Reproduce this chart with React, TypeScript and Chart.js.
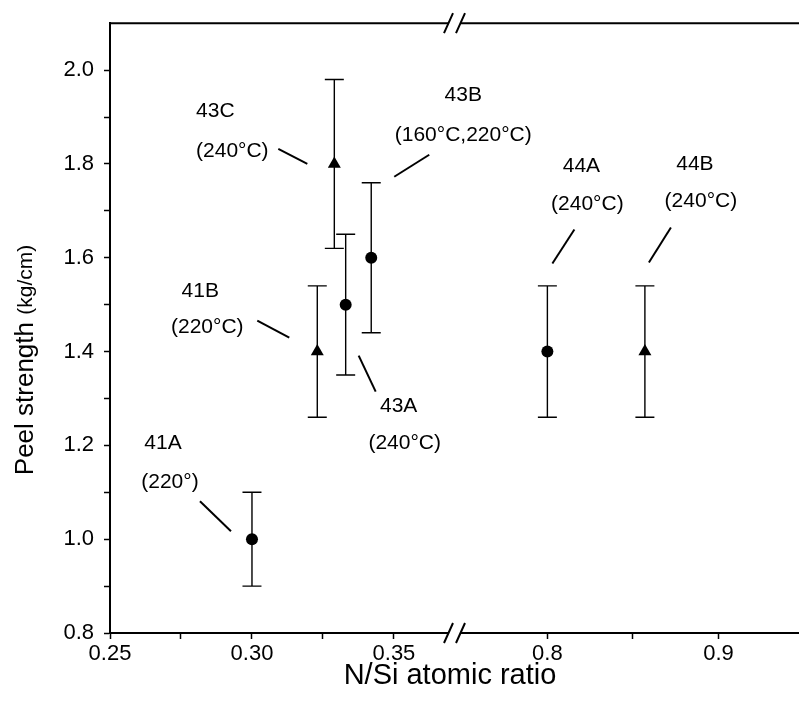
import React, { useEffect, useRef } from "react";
import { Chart, registerables } from "chart.js";

Chart.register(...registerables);

// ---- data ----
const sampleNames = ["41A", "41B", "43C", "43A", "43B", "44A", "44B"];
const sampleConditions = ["(220°)", "(220°C)", "(240°C)", "(240°C)", "(160°C,220°C)", "(240°C)", "(240°C)"];
const nSiRatio = [0.3, 0.323, 0.329, 0.333, 0.342, 0.8, 0.857];
const peelStrength = [1.0, 1.4, 1.8, 1.5, 1.6, 1.4, 1.4];
const peelError = [0.1, 0.14, 0.18, 0.15, 0.16, 0.14, 0.14];
const markerShape = ["circle", "triangle", "triangle", "circle", "circle", "circle", "triangle"];

// ---- axes ----
const xLeftRange = [0.25, 0.3715];
const xRightRange = [0.746, 0.95];
const yRange = [0.8, 2.1];
const xLeftTicks = [0.25, 0.275, 0.3, 0.325, 0.35];
const xLeftLabels = ["0.25", "", "0.30", "", "0.35"];
const xRightTicks = [0.8, 0.85, 0.9];
const xRightLabels = ["0.8", "", "0.9"];
const yTicks = [0.8, 0.9, 1.0, 1.1, 1.2, 1.3, 1.4, 1.5, 1.6, 1.7, 1.8, 1.9, 2.0];
const yLabels = ["0.8", "", "1.0", "", "1.2", "", "1.4", "", "1.6", "", "1.8", "", "2.0"];
const xTitle = "N/Si atomic ratio";
const yTitleMain = "Peel strength";
const yTitleUnit = "(kg/cm)";

// ---- annotation layout (pixel offsets from each point) ----
const labelLayout = [
  { name: [-89, -96], cond: [-82, -57], line: [-52, -38, -21, -8] },
  { name: [-117, -60], cond: [-110, -24], line: [-60, -31, -28, -14] },
  { name: [-119, -53], cond: [-102, -13], line: [-56, -15, -27, 0] },
  { name: [53, 102], cond: [59, 139], line: [13, 51, 30, 87] },
  { name: [92, -163], cond: [92, -123], line: [23, -81, 58, -103] },
  { name: [34, -185], cond: [40, -147], line: [5, -88, 27, -122] },
  { name: [50, -187], cond: [56, -150], line: [4, -89, 26, -124] },
];

const FONT = '"Liberation Sans", Arial, Helvetica, sans-serif';
const W = 812;
const H = 701;

const inLeft = (v: number) => v >= xLeftRange[0] && v <= xLeftRange[1];

function axisFor(chart: any, v: number) {
  return inLeft(v) ? chart.scales.xL : chart.scales.xR;
}

const errorBarPlugin = {
  id: "errorBars",
  beforeDatasetsDraw(chart: any) {
    const ctx = chart.ctx;
    const ys = chart.scales.y;
    ctx.save();
    ctx.strokeStyle = "#000";
    ctx.lineWidth = 1.4;
    for (let i = 0; i < nSiRatio.length; i++) {
      const xs = axisFor(chart, nSiRatio[i]);
      const px = xs.getPixelForValue(nSiRatio[i]);
      const top = ys.getPixelForValue(peelStrength[i] + peelError[i]);
      const bot = ys.getPixelForValue(peelStrength[i] - peelError[i]);
      const cap = 9.5;
      ctx.beginPath();
      ctx.moveTo(px, top);
      ctx.lineTo(px, bot);
      ctx.moveTo(px - cap, top);
      ctx.lineTo(px + cap, top);
      ctx.moveTo(px - cap, bot);
      ctx.lineTo(px + cap, bot);
      ctx.stroke();
    }
    ctx.restore();
  },
};

const annotationPlugin = {
  id: "annotations",
  afterDatasetsDraw(chart: any) {
    const ctx = chart.ctx;
    const ys = chart.scales.y;
    ctx.save();
    ctx.fillStyle = "#000";
    ctx.strokeStyle = "#000";
    ctx.lineWidth = 2;
    ctx.font = `21px ${FONT}`;
    ctx.textAlign = "center";
    ctx.textBaseline = "middle";
    for (let i = 0; i < nSiRatio.length; i++) {
      const xs = axisFor(chart, nSiRatio[i]);
      const px = xs.getPixelForValue(nSiRatio[i]);
      const py = ys.getPixelForValue(peelStrength[i]);
      const L = labelLayout[i];
      ctx.fillText(sampleNames[i], px + L.name[0], py + L.name[1]);
      ctx.fillText(sampleConditions[i], px + L.cond[0], py + L.cond[1]);
      ctx.beginPath();
      ctx.moveTo(px + L.line[0], py + L.line[1]);
      ctx.lineTo(px + L.line[2], py + L.line[3]);
      ctx.stroke();
    }
    ctx.restore();
  },
};

const framePlugin = {
  id: "frame",
  afterDraw(chart: any) {
    const ctx = chart.ctx;
    const area = chart.chartArea;
    const bx = chart.scales.xL.right;
    ctx.save();
    ctx.strokeStyle = "#000";
    ctx.lineWidth = 2;
    // top frame line
    ctx.beginPath();
    ctx.moveTo(area.left - 1, area.top);
    ctx.lineTo(W, area.top);
    ctx.stroke();
    // break marks at top and bottom
    for (const yy of [area.top, area.bottom]) {
      ctx.fillStyle = "#fff";
      ctx.fillRect(bx - 6, yy - 3, 12, 6);
      ctx.beginPath();
      ctx.moveTo(bx - 11, yy + 10);
      ctx.lineTo(bx - 2, yy - 10);
      ctx.moveTo(bx + 1, yy + 10);
      ctx.lineTo(bx + 10, yy - 10);
      ctx.stroke();
    }
    // axis titles
    ctx.fillStyle = "#000";
    ctx.font = `29px ${FONT}`;
    ctx.textAlign = "center";
    ctx.textBaseline = "middle";
    ctx.fillText(xTitle, 450, 676);

    ctx.translate(26, 360);
    ctx.rotate(-Math.PI / 2);
    ctx.textBaseline = "middle";
    ctx.textAlign = "left";
    ctx.font = `26px ${FONT}`;
    const mainW = ctx.measureText(yTitleMain + " ").width;
    ctx.font = `21px ${FONT}`;
    const unitW = ctx.measureText(yTitleUnit).width;
    const start = -(mainW + unitW) / 2;
    ctx.font = `26px ${FONT}`;
    ctx.fillText(yTitleMain, start, 0);
    ctx.font = `21px ${FONT}`;
    ctx.fillText(yTitleUnit, start + mainW, 0);
    ctx.restore();
  },
};

function makeDataset(filter: (v: number) => boolean, axisId: string) {
  const idx = nSiRatio.map((v, i) => i).filter((i) => filter(nSiRatio[i]));
  return {
    data: idx.map((i) => ({ x: nSiRatio[i], y: peelStrength[i] })),
    pointStyle: idx.map((i) => markerShape[i]),
    pointRadius: idx.map((i) => (markerShape[i] === "triangle" ? 7.5 : 6)),
    backgroundColor: "#000",
    borderColor: "#000",
    borderWidth: 0,
    showLine: false,
    xAxisID: axisId,
    yAxisID: "y",
  };
}

export default function App() {
  const ref = useRef<HTMLCanvasElement | null>(null);
  useEffect(() => {
    if (!ref.current) return;
    const tickFont = { family: FONT, size: 22 };
    const xCommon = (ticks: number[], labels: string[]) => ({
      type: "linear",
      position: "bottom",
      stack: "xbreak",
      afterBuildTicks: (s: any) => {
        s.ticks = ticks.map((v) => ({ value: v }));
      },
      afterFit: (s: any) => {
        s.height = 68;
      },
      ticks: {
        autoSkip: false,
        maxRotation: 0,
        color: "#000",
        font: tickFont,
        padding: 2,
        callback: (v: number) => {
          const k = ticks.findIndex((t) => Math.abs(t - v) < 1e-9);
          return k >= 0 ? labels[k] : "";
        },
      },
      grid: {
        drawOnChartArea: false,
        drawTicks: true,
        tickLength: 6,
        color: "#000",
        tickWidth: 1.5,
      },
      border: { display: true, color: "#000", width: 2 },
    });
    const chart = new Chart(ref.current, {
      type: "scatter",
      data: {
        datasets: [
          makeDataset(inLeft, "xL"),
          makeDataset((v) => !inLeft(v), "xR"),
        ] as any,
      },
      options: {
        animation: false,
        responsive: false,
        devicePixelRatio: 1,
        layout: { padding: { top: 20, right: 8, bottom: 0, left: 0 } },
        plugins: { legend: { display: false }, tooltip: { enabled: false } },
        scales: {
          xL: {
            ...xCommon(xLeftTicks, xLeftLabels),
            min: xLeftRange[0],
            max: xLeftRange[1],
            stackWeight: 345,
          },
          xR: {
            ...xCommon(xRightTicks, xRightLabels),
            min: xRightRange[0],
            max: xRightRange[1],
            stackWeight: 349,
          },
          y: {
            type: "linear",
            position: "left",
            min: yRange[0],
            max: yRange[1],
            afterBuildTicks: (s: any) => {
              s.ticks = yTicks.map((v) => ({ value: v }));
            },
            afterFit: (s: any) => {
              s.width = 110;
            },
            ticks: {
              autoSkip: false,
              color: "#000",
              font: tickFont,
              padding: 10,
              callback: (v: number) => {
                const k = yTicks.findIndex((t) => Math.abs(t - v) < 1e-9);
                return k >= 0 ? yLabels[k] : "";
              },
            },
            grid: {
              drawOnChartArea: false,
              drawTicks: true,
              tickLength: 6,
              color: "#000",
              tickWidth: 1.5,
            },
            border: { display: true, color: "#000", width: 2 },
          },
        } as any,
      },
      plugins: [errorBarPlugin, annotationPlugin, framePlugin],
    });
    return () => chart.destroy();
  }, []);
  return (
    <div
      style={{
        position: "fixed",
        left: 0,
        top: 0,
        width: 799,
        height: 701,
        overflow: "hidden",
        background: "#fff",
      }}
    >
      <canvas ref={ref} width={W} height={H} style={{ display: "block" }} />
    </div>
  );
}
